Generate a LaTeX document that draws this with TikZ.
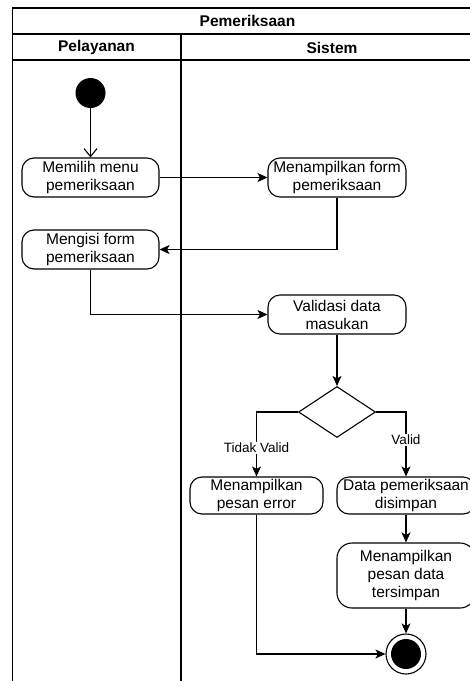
\documentclass[tikz,border=0pt]{standalone}
\usepackage{fontspec}
\setmainfont{Liberation Sans}
\usetikzlibrary{arrows.meta,shapes.geometric}

\begin{document}
\begin{tikzpicture}[x=1pt,y=-1pt,
  every node/.style={font=\fontsize{15.5}{18}\selectfont},
  act/.style={draw, rounded corners=12pt, align=center, inner sep=0pt,
    minimum width=137pt, minimum height=39pt, line width=1.1pt},
  decision/.style={draw, diamond, inner sep=0pt, minimum width=77pt,
    minimum height=51pt, line width=1.1pt},
  lane/.style={line width=1.2pt},
  head/.style={font=\bfseries\fontsize{15.5}{18}\selectfont},
  flow/.style={line width=1.1pt, -{Stealth[length=10pt,width=9pt,inset=2.5pt]}},
  openflow/.style={line width=1.1pt, -{Straight Barb[length=8pt,width=13pt]}},
  lbl/.style={fill=white, inner sep=1pt, font=\fontsize{13.5}{16}\selectfont}]

\useasboundingbox (0,0) rectangle (470,681);

% pool and lanes
\draw[lane] (12.5,700) -- (12.5,8) -- (483,8) -- (483,700);
\draw[lane] (12.5,34) -- (483,34);
\draw[lane] (12.5,60) -- (483,60);
\draw[lane] (181,34) -- (181,700);
\node[head] (pooltitle) at (247.5,21) {Pemeriksaan};
\node[head] (lanepel) at (96.5,47.5) {Pelayanan};
\node[head] (lanesis) at (332,47.5) {Sistem};

% activities
\node[circle, fill=black, minimum size=30pt, inner sep=0pt] (start) at (90.5,93) {};
\node[act] (pilih) at (90.5,177.5) {Memilih menu\\pemeriksaan};
\node[act, minimum width=138pt] (tampilform) at (337,177.5) {Menampilkan form\\pemeriksaan};
\node[act] (isi) at (90.5,249.5) {Mengisi form\\pemeriksaan};
\node[act, minimum width=138pt] (validasi) at (337,314.5) {Validasi data\\masukan};
\node[decision] (cek) at (337,412) {};
\node[act, minimum width=133pt, minimum height=37pt] (error) at (256.5,495.5) {Menampilkan\\pesan error};
\node[act, minimum width=138pt, minimum height=37pt] (simpan) at (406,495.5) {Data pemeriksaan\\disimpan};
\node[act, minimum width=138pt, minimum height=65pt, rounded corners=15pt] (pesan) at (406,575.5) {Menampilkan\\pesan data\\tersimpan};
\node[circle, draw, line width=1.1pt, minimum size=40pt, inner sep=0pt] (end) at (406,654) {};
\fill (end.center) circle (15pt);

% control flow
\draw[openflow] (start) -- (pilih);
\draw[flow] (pilih) -- (tampilform);
\draw[flow] (tampilform.south) |- (isi.east);
\draw[flow] (isi.south) |- (validasi.west);
\draw[flow] (validasi) -- (cek);
\draw[flow] (cek.west) -| node[lbl, pos=0.78] {Tidak Valid} (error.north);
\draw[flow] (cek.east) -| node[lbl, pos=0.715] {Valid} (simpan.north);
\draw[flow] (simpan) -- (pesan);
\draw[flow] (pesan) -- (end);
\draw[flow] (error.south) |- (end.west);
\end{tikzpicture}
\end{document}
